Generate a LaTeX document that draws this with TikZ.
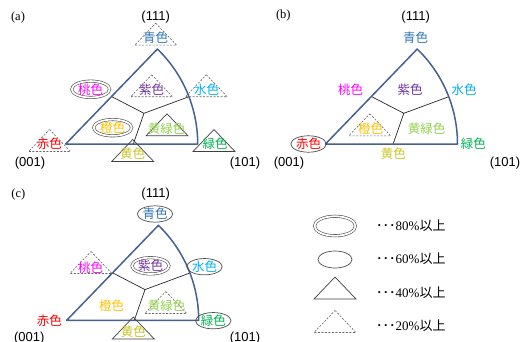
\documentclass[tikz,border=0pt]{standalone}
\usepackage{fontspec}
\setmainfont{Liberation Serif}
\newfontfamily\cjk{Noto Sans CJK JP}
\newfontfamily\arialf{Liberation Sans}
\usetikzlibrary{shapes.geometric}
\definecolor{cblue}{HTML}{2E75B6}
\definecolor{cpurple}{HTML}{7030A0}
\definecolor{cpink}{HTML}{FF00FF}
\definecolor{ccyan}{HTML}{00B0F0}
\definecolor{cygreen}{HTML}{92D050}
\definecolor{cgreen}{HTML}{00B050}
\definecolor{cyellow}{HTML}{C8C428}
\definecolor{corange}{HTML}{FFC000}
\definecolor{cred}{HTML}{FF0000}
\definecolor{triline}{HTML}{44618F}
\tikzset{
  jp/.style={font=\cjk\fontsize{12.5}{14}\selectfont, inner sep=0pt},
  idx/.style={font=\arialf\fontsize{13}{15}\selectfont, inner sep=0pt},
  pan/.style={font=\fontsize{12.5}{14}\selectfont, inner sep=0pt},
  leg/.style={font=\fontsize{13}{15}\selectfont, inner sep=0pt, anchor=west},
  outline/.style={draw=triline, line width=1.5pt, line join=round},
  bound/.style={draw=black!85, line width=0.7pt},
  dtri/.style={draw=black!60, dash pattern=on 2pt off 1.5pt, line width=0.6pt},
  stri/.style={draw=black!75, line width=0.7pt},
  oval/.style={ellipse, draw=black!70, line width=0.7pt, inner sep=0pt},
  doval/.style={ellipse, draw=black!70, double, double distance=1.8pt, line width=0.6pt, inner sep=0pt},
  mtri/.pic={\draw[pic actions] (0,-14.5) -- (21,7.5) -- (-21,7.5) -- cycle;},
  ipf/.pic={
    \coordinate (-O) at (0,0);
    \coordinate (-R) at (0:132);
    \coordinate (-T) at (-46:132);
    \coordinate (-A) at (-21:132);
    \coordinate (-L) at (45.85,-47.5);
    \coordinate (-J) at (78.3,-30.7);
    \coordinate (-B) at (67.6,0);
    \draw[bound] (-L) -- (-J) -- (-A) (-J) -- (-B);
    \draw[outline] (-O) -- (-R) arc[start angle=0, end angle=-46, radius=132] -- cycle;
  }
}
\begin{document}
\begin{tikzpicture}[x=1pt, y=-1pt]
\useasboundingbox (0,0) rectangle (527,342);
% ---------- panel (a)
\pic (a) at (65.7,144) {ipf};
\node[pan] (a-lab) at (18,17) {(a)};
\node[idx] (a-111) at (155.7,16.7) {(111)};
\node[idx] (a-001) at (30,163.3) {(001)};
\node[idx] (a-101) at (245,163.3) {(101)};
\pic[dtri] at (155.7,37.7) {mtri};
\node[jp, text=cblue] (a-blue) at (155.7,37.7) {青色};
\node[jp, doval, minimum width=38pt, minimum height=15pt, text=cpink] (a-pink) at (90.7,89.3) {桃色};
\pic[dtri] at (151.7,89.3) {mtri};
\node[jp, text=cpurple] (a-purple) at (151.7,89.3) {紫色};
\pic[dtri] at (206.3,89.3) {mtri};
\node[jp, text=ccyan] (a-cyan) at (206.7,89.3) {水色};
\node[jp, doval, minimum width=38pt, minimum height=15pt, text=corange] (a-orange) at (112.7,127.7) {橙色};
\pic[stri] at (167,128.3) {mtri};
\node[jp, text=cygreen] (a-ygreen) at (166.7,128.3) {黄緑色};
\pic[dtri] at (49.5,144) {mtri};
\node[jp, text=cred] (a-red) at (49.3,144) {赤色};
\pic[stri] at (132.7,154) {mtri};
\node[jp, text=cyellow] (a-yellow) at (132.7,154) {黄色};
\pic[stri] at (214,144) {mtri};
\node[jp, text=cgreen] (a-green) at (215,144) {緑色};
% ---------- panel (b)
\pic (b) at (325.5,144) {ipf};
\node[pan] (b-lab) at (283.3,15) {(b)};
\node[idx] (b-111) at (415.7,16.7) {(111)};
\node[idx] (b-001) at (289,163.3) {(001)};
\node[idx] (b-101) at (505,163.3) {(101)};
\node[jp, text=cblue] (b-blue) at (415.7,37.7) {青色};
\node[jp, text=cpink] (b-pink) at (350.7,89.3) {桃色};
\node[jp, text=cpurple] (b-purple) at (410,89.3) {紫色};
\node[jp, text=ccyan] (b-cyan) at (464,89.3) {水色};
\pic[dtri] at (369.8,128.3) {mtri};
\node[jp, text=corange] (b-orange) at (370.7,128.3) {橙色};
\node[jp, text=cygreen] (b-ygreen) at (426.7,128.3) {黄緑色};
\node[jp, oval, minimum width=34pt, minimum height=12pt, text=cred] (b-red) at (308.5,144) {赤色};
\node[jp, text=cyellow] (b-yellow) at (393.3,154) {黄色};
\node[jp, text=cgreen] (b-green) at (473.3,144) {緑色};
% ---------- panel (c)
\pic (c) at (66.7,320.3) {ipf};
\node[pan] (c-lab) at (18.3,194.3) {(c)};
\node[idx] (c-111) at (155.7,194.3) {(111)};
\node[idx] (c-001) at (29.3,337.7) {(001)};
\node[idx] (c-101) at (245,337.7) {(101)};
\node[jp, oval, minimum width=35pt, minimum height=14pt, text=cblue] (c-blue) at (155,214) {青色};
\pic[dtri] at (91,266) {mtri};
\node[jp, text=cpink] (c-pink) at (90.7,267.7) {桃色};
\node[jp, doval, minimum width=37pt, minimum height=16pt, text=cpurple] (c-purple) at (150.5,265.8) {紫色};
\node[jp, oval, minimum width=31pt, minimum height=16pt, text=ccyan] (c-cyan) at (204.5,266.7) {水色};
\node[jp, text=corange] (c-orange) at (111.7,306) {橙色};
\pic[dtri] at (165.8,306) {mtri};
\node[jp, text=cygreen] (c-ygreen) at (166.7,306) {黄緑色};
\node[jp, text=cred] (c-red) at (49.3,320.3) {赤色};
\pic[stri] at (133.3,331.5) {mtri};
\node[jp, text=cyellow] (c-yellow) at (133.3,331.7) {黄色};
\node[jp, oval, minimum width=32pt, minimum height=14pt, text=cgreen] (c-green) at (213.3,320.7) {緑色};
% ---------- legend
\node[doval, minimum width=41pt, minimum height=19.5pt] (l-80) at (335,226) {};
\node[oval, minimum width=34pt, minimum height=17pt] (l-60) at (335,259.5) {};
\pic[stri] at (335,291.5) {mtri};
\pic[dtri] at (335,325) {mtri};
\node[leg] (t-80) at (376,226) {{\cjk ･･･}80\%{\cjk 以上}};
\node[leg] (t-60) at (376,258.8) {{\cjk ･･･}60\%{\cjk 以上}};
\node[leg] (t-40) at (376,292.7) {{\cjk ･･･}40\%{\cjk 以上}};
\node[leg] (t-20) at (376,326) {{\cjk ･･･}20\%{\cjk 以上}};
\end{tikzpicture}
\end{document}
